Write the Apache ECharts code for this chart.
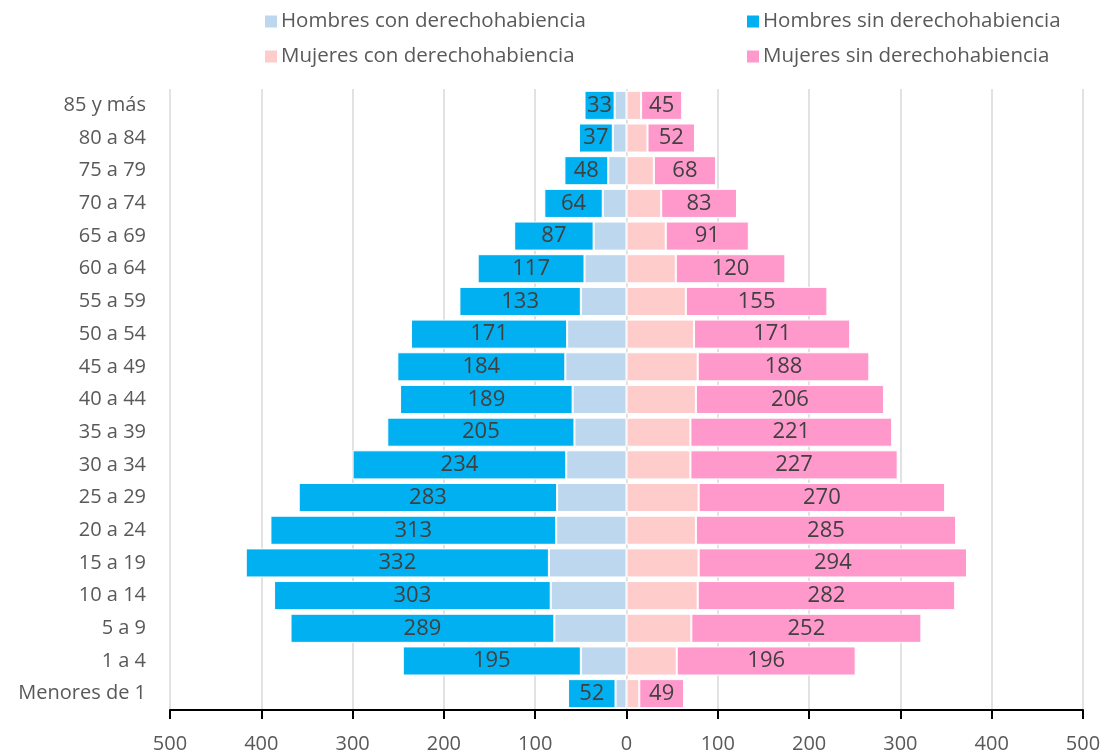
<!DOCTYPE html>
<html>
<head>
<meta charset="utf-8">
<script src="https://cdn.jsdelivr.net/npm/echarts@6/dist/echarts.min.js"></script>
<style>
  html, body { margin: 0; padding: 0; background: #fff; }
  #chart { width: 1105px; height: 754px; }
</style>
</head>
<body>
<div id="chart"></div>
<script>
  // grupos de edad, de abajo hacia arriba
  var categories = ['Menores de 1', '1 a 4', '5 a 9', '10 a 14', '15 a 19', '20 a 24', '25 a 29', '30 a 34',
    '35 a 39', '40 a 44', '45 a 49', '50 a 54', '55 a 59', '60 a 64', '65 a 69', '70 a 74', '75 a 79',
    '80 a 84', '85 y más'];
  var hombresCon = [12, 50, 79, 83, 85, 77, 76, 66, 57, 59, 67, 65, 50, 46, 36, 26, 20, 15, 13];
  var hombresSin = [52, 195, 289, 303, 332, 313, 283, 234, 205, 189, 184, 171, 133, 117, 87, 64, 48, 37, 33];
  var mujeresCon = [14, 55, 71, 78, 79, 76, 79, 70, 70, 76, 78, 74, 65, 54, 43, 38, 30, 23, 16];
  var mujeresSin = [49, 196, 252, 282, 294, 285, 270, 227, 221, 206, 188, 171, 155, 120, 91, 83, 68, 52, 45];
  var xTicks = [-500, -400, -300, -200, -100, 0, 100, 200, 300, 400, 500];

  var fontFam = '"Open Sans", sans-serif';
  var myChart = echarts.init(document.getElementById('chart'));

  function neg(arr) {
    return arr.map(function (v) { return -v; });
  }

  function legendAt(name, left, top) {
    return {
      data: [name],
      left: left,
      top: top,
      itemWidth: 14,
      itemHeight: 14,
      icon: 'rect',
      itemGap: 6,
      textStyle: { fontFamily: fontFam, fontSize: 20.5, color: '#595959', padding: [0, 0, 0, -2] }
    };
  }

  var barLabel = {
    show: true,
    position: 'inside',
    fontFamily: fontFam,
    fontSize: 22,
    color: '#404040',
    formatter: function (p) { return Math.abs(p.value); }
  };

  var option = {
    animation: false,
    legend: [
      legendAt('Hombres con derechohabiencia', 258, 6),
      legendAt('Hombres sin derechohabiencia', 740, 6),
      legendAt('Mujeres con derechohabiencia', 258, 41),
      legendAt('Mujeres sin derechohabiencia', 740, 41)
    ],
    grid: { left: 170, right: 22, top: 89, bottom: 43 },
    xAxis: {
      type: 'value',
      min: xTicks[0],
      max: xTicks[xTicks.length - 1],
      interval: 100,
      axisLine: { show: true, lineStyle: { color: '#000', width: 2 } },
      axisTick: { show: true, length: 9, lineStyle: { color: '#000', width: 2 } },
      splitLine: { show: true, lineStyle: { color: '#d9d9d9', width: 1.5 } },
      axisLabel: {
        margin: 24,
        fontFamily: fontFam,
        fontSize: 20,
        color: '#595959',
        formatter: function (v) { return Math.abs(v); }
      }
    },
    yAxis: {
      type: 'category',
      data: categories,
      axisLine: { show: false },
      axisTick: { show: false },
      axisLabel: { margin: 24, fontFamily: fontFam, fontSize: 20, color: '#595959' }
    },
    series: [
      {
        name: 'Hombres con derechohabiencia', type: 'bar', stack: 'total', barCategoryGap: '11%',
        data: neg(hombresCon),
        itemStyle: { color: '#BDD7EE', borderColor: '#fff', borderWidth: 1 }
      },
      {
        name: 'Hombres sin derechohabiencia', type: 'bar', stack: 'total',
        data: neg(hombresSin),
        itemStyle: { color: '#00B0F0', borderColor: '#fff', borderWidth: 1 },
        label: barLabel
      },
      {
        name: 'Mujeres con derechohabiencia', type: 'bar', stack: 'total',
        data: mujeresCon,
        itemStyle: { color: '#FFCCCC', borderColor: '#fff', borderWidth: 1 }
      },
      {
        name: 'Mujeres sin derechohabiencia', type: 'bar', stack: 'total',
        data: mujeresSin,
        itemStyle: { color: '#FF99CC', borderColor: '#fff', borderWidth: 1 },
        label: barLabel
      }
    ]
  };

  myChart.setOption(option);
</script>
</body>
</html>
